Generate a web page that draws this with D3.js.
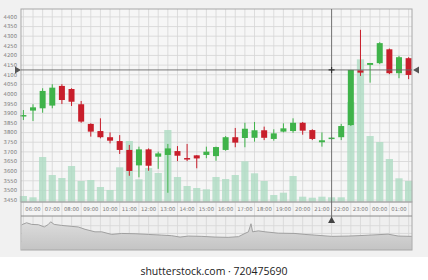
<!DOCTYPE html>
<html>
<head>
<meta charset="utf-8">
<script src="https://cdn.jsdelivr.net/npm/d3@7"></script>
<style>
  body { margin: 0; background: #fff; }
  svg { display: block; font-family: "DejaVu Sans", sans-serif; }
</style>
</head>
<body>
<div id="chart"></div>
<script>
// half hour candles
const times = ["05:30", "06:00", "06:30", "07:00", "07:30", "08:00", "08:30", "09:00", "09:30", "10:00",
  "10:30", "11:00", "11:30", "12:00", "12:30", "13:00", "13:30", "14:00", "14:30", "15:00",
  "15:30", "16:00", "16:30", "17:00", "17:30", "18:00", "18:30", "19:00", "19:30", "20:00",
  "20:30", "21:00", "21:30", "22:00", "22:30", "23:00", "23:30", "00:00", "00:30", "01:00", "01:30"];
const open = [3886, 3914, 3926, 3940, 4042, 4026, 3947, 3845, 3808, 3776, 3756, 3710, 3630, 3713, 3675, 3684, 3704, 3668, 3682, 3684,
  3678, 3710, 3776, 3772, 3773, 3812, 3767, 3805, 3808, 3851, 3813, 3750, 3768, 3776, 3839, 4123, 4151, 4160, 4232, 4108, 4186];
const close = [3891, 3931, 4016, 4033, 3969, 3960, 3857, 3805, 3776, 3758, 3710, 3601, 3713, 3628, 3692, 3718, 3680, 3661, 3666, 3701,
  3725, 3776, 3748, 3820, 3812, 3773, 3796, 3822, 3851, 3810, 3767, 3760, 3774, 3834, 4125, 4111, 4161, 4264, 4108, 4191, 4099];
const high = [3917, 3947, 4030, 4051, 4051, 4030, 3964, 3848, 3874, 3801, 3787, 3736, 3727, 3718, 3701, 3741, 3730, 3741, 3683, 3727,
  3727, 3782, 3824, 3851, 3855, 3831, 3817, 3848, 3874, 3855, 3817, 3801, 3776, 3845, 4125, 4333, 4161, 4269, 4236, 4198, 4191];
const low = [3865, 3860, 3903, 3926, 3948, 3938, 3851, 3779, 3770, 3744, 3689, 3576, 3568, 3602, 3612, 3488, 3652, 3652, 3615, 3667,
  3654, 3706, 3724, 3724, 3753, 3761, 3758, 3801, 3799, 3789, 3761, 3727, 3765, 3761, 3834, 4094, 4059, 4155, 4103, 4082, 4077];
const volume = [60, 47, 450, 270, 240, 360, 210, 220, 150, 120, 347, 610, 227, 340, 290, 720, 250, 160, 140, 127,
  250, 230, 270, 407, 287, 210, 70, 93, 260, 53, 43, 53, 47, 47, 1000, 1427, 660, 600, 430, 237, 210];

const yTicks = [3450, 3500, 3550, 3600, 3650, 3700, 3750, 3800, 3850, 3900, 3950, 4000, 4050, 4100, 4150, 4200, 4250, 4300, 4350, 4400];
const hourLabels = ["06:00", "07:00", "08:00", "09:00", "10:00", "11:00", "12:00", "13:00", "14:00", "15:00",
  "16:00", "17:00", "18:00", "19:00", "20:00", "21:00", "22:00", "23:00", "00:00", "01:00"];

// overview strip at the bottom
const navTimes = ["05:25", "05:40", "05:56", "06:17", "06:35", "06:48", "06:55", "07:06", "07:29", "08:01", "08:21", "08:42",
  "09:13", "09:34", "10:05", "10:36", "11:18", "11:59", "12:41", "13:12", "13:38", "14:04", "14:46", "15:27", "16:08",
  "16:40", "17:00", "17:11", "17:19", "17:24", "17:42", "18:03", "18:44", "19:36", "20:07", "20:38", "21:30", "22:22",
  "23:14", "00:26", "00:58", "01:40"];
const navValues = [4181, 4244, 4191, 4181, 4109, 4191, 4275, 4191, 4159, 4128, 4109, 4034,
  3953, 3953, 3869, 3900, 3891, 3869, 3847, 3828, 3784, 3816, 3806, 3784, 3775,
  3797, 3900, 3953, 4213, 3953, 3984, 3953, 3909, 3900, 3869, 3847, 3806, 3816,
  3838, 3878, 3816, 3806];
const navTicks = [3650, 3900, 4150];

const crossTime = "21:30",
    crossValue = 4125;

let width = 428,
    height = 280;

function toDate(s) {
  const p = s.split(":");
  const h = +p[0];
  return new Date(2017, 0, h < 5 ? 2 : 1, h, +p[1]);
}

const svg = d3.select("#chart")
      .append("svg")
      .attr("width", width)
      .attr("height", height);

const pLeft = 21, pRight = 412, pTop = 9, pBottom = 202;
const navTop = 216, navBottom = 250;

const x = d3.scaleTime()
  .domain([new Date(2017, 0, 1, 5, 22, 36), new Date(2017, 0, 2, 1, 40, 30)])
  .range([pLeft, pRight]);
const y = d3.scaleLinear().domain([3440, 4441]).range([pBottom, pTop]);
const yVol = d3.scaleLinear().domain([0, 1930]).range([pBottom, pTop]);
const yNav = d3.scaleLinear().domain([3400, 4462]).range([navBottom - 1, navTop]);

const halfHours = d3.timeMinute.every(30).range(x.domain()[0], x.domain()[1]);

// backgrounds
svg.append("rect").attr("width", width).attr("height", 257).attr("fill", "#f1f1f1");
svg.append("rect").attr("x", pLeft).attr("y", pTop).attr("width", pRight - pLeft).attr("height", pBottom - pTop)
  .attr("fill", "#f6f6f6");
svg.append("rect").attr("x", pLeft).attr("y", pBottom).attr("width", pRight - pLeft).attr("height", navTop - pBottom)
  .attr("fill", "#f4f4f4");
svg.append("rect").attr("x", pLeft).attr("y", navTop).attr("width", pRight - pLeft).attr("height", navBottom - navTop)
  .attr("fill", "#efefef");

// grid
const grid = svg.append("g").attr("stroke", "#d6d6d6").attr("stroke-width", 0.8);
grid.selectAll(".vg")
  .data(halfHours)
  .enter().append("line")
  .attr("x1", function (d) { return x(d); })
  .attr("x2", function (d) { return x(d); })
  .attr("y1", pTop)
  .attr("y2", pBottom);
grid.selectAll(".hg")
  .data(yTicks)
  .enter().append("line")
  .attr("x1", pLeft)
  .attr("x2", pRight)
  .attr("y1", function (d) { return y(d); })
  .attr("y2", function (d) { return y(d); });
// separators in the time band
grid.selectAll(".bg")
  .data(halfHours.filter(function (d) { return d.getMinutes() === 30; }))
  .enter().append("line")
  .attr("x1", function (d) { return x(d); })
  .attr("x2", function (d) { return x(d); })
  .attr("y1", pBottom)
  .attr("y2", navTop);
// navigator grid
grid.selectAll(".ng")
  .data(halfHours)
  .enter().append("line")
  .attr("x1", function (d) { return x(d); })
  .attr("x2", function (d) { return x(d); })
  .attr("y1", navTop)
  .attr("y2", navBottom);
grid.selectAll(".nh")
  .data(navTicks)
  .enter().append("line")
  .attr("x1", pLeft)
  .attr("x2", pRight)
  .attr("y1", function (d) { return yNav(d); })
  .attr("y2", function (d) { return yNav(d); });

// volume
const bw = 7.2;
svg.append("g").selectAll("rect")
  .data(volume)
  .enter().append("rect")
  .attr("x", function (d, i) { return x(toDate(times[i])) - bw / 2; })
  .attr("y", function (d) { return yVol(d); })
  .attr("width", bw)
  .attr("height", function (d) { return pBottom - yVol(d); })
  .attr("fill", "#aedcc3")
  .attr("fill-opacity", 0.82);

// candles
const candles = times.map(function (t, i) {
  return { t: toDate(t), o: open[i], c: close[i], h: high[i], l: low[i] };
});
const color = function (d) { return d.c >= d.o ? "#3fb34a" : "#c81e2b"; };
const cw = 6;
const candle = svg.append("g").selectAll("g")
  .data(candles)
  .enter().append("g");
candle.append("line")
  .attr("x1", function (d) { return x(d.t); })
  .attr("x2", function (d) { return x(d.t); })
  .attr("y1", function (d) { return y(d.h); })
  .attr("y2", function (d) { return y(d.l); })
  .attr("stroke", color)
  .attr("stroke-width", 1);
candle.append("rect")
  .attr("x", function (d) { return x(d.t) - cw / 2; })
  .attr("y", function (d) { return y(Math.max(d.o, d.c)); })
  .attr("width", cw)
  .attr("height", function (d) { return Math.max(1.5, Math.abs(y(d.o) - y(d.c))); })
  .attr("fill", color);

// navigator area
const defs = svg.append("defs");
const grad = defs.append("linearGradient").attr("id", "navfill").attr("x1", 0).attr("y1", 0).attr("x2", 0).attr("y2", 1);
grad.append("stop").attr("offset", "0%").attr("stop-color", "#dcdcdc");
grad.append("stop").attr("offset", "100%").attr("stop-color", "#c4c4c4");
const navData = navTimes.map(function (t, i) { return { t: toDate(t), v: navValues[i] }; });
svg.append("path")
  .datum(navData)
  .attr("fill", "url(#navfill)")
  .attr("d", d3.area()
    .x(function (d) { return x(d.t); })
    .y0(navBottom)
    .y1(function (d) { return yNav(d.v); }));
svg.append("path")
  .datum(navData)
  .attr("fill", "none")
  .attr("stroke", "#a0a0a0")
  .attr("stroke-width", 1)
  .attr("d", d3.line()
    .x(function (d) { return x(d.t); })
    .y(function (d) { return yNav(d.v); }));

// frames
svg.append("rect").attr("x", pLeft).attr("y", pTop).attr("width", pRight - pLeft).attr("height", pBottom - pTop)
  .attr("fill", "none").attr("stroke", "#a8a8a8");
svg.append("rect").attr("x", pLeft).attr("y", pBottom).attr("width", pRight - pLeft).attr("height", navBottom - pBottom)
  .attr("fill", "none").attr("stroke", "#a8a8a8");
svg.append("line").attr("x1", pLeft).attr("x2", pRight).attr("y1", navTop).attr("y2", navTop)
  .attr("stroke", "#8c8c8c");

// axis labels
svg.append("g").selectAll("text")
  .data(yTicks)
  .enter().append("text")
  .attr("x", 17)
  .attr("y", function (d) { return y(d); })
  .attr("dy", ".35em")
  .attr("text-anchor", "end")
  .attr("font-size", 5.3)
  .attr("fill", "#7a7a7a")
  .text(function (d) { return d; });
svg.append("g").selectAll("text")
  .data(hourLabels)
  .enter().append("text")
  .attr("x", function (d) { return x(toDate(d)); })
  .attr("y", 209)
  .attr("dy", ".35em")
  .attr("text-anchor", "middle")
  .attr("font-size", 5.3)
  .attr("fill", "#7a7a7a")
  .text(function (d) { return d; });

// crosshair
const cx = x(toDate(crossTime)), cy = y(crossValue);
svg.append("line").attr("x1", pLeft).attr("x2", pRight).attr("y1", cy).attr("y2", cy)
  .attr("stroke", "#6a6a6a").attr("stroke-width", 0.9);
svg.append("line").attr("x1", cx).attr("x2", cx).attr("y1", pTop).attr("y2", navTop + 2)
  .attr("stroke", "#6a6a6a").attr("stroke-width", 0.9);
svg.append("path").attr("d", "M" + (cx - 3) + "," + cy + "H" + (cx + 3) + "M" + cx + "," + (cy - 3) + "V" + (cy + 3))
  .attr("stroke", "#333").attr("stroke-width", 1.2);
svg.append("path").attr("d", "M15," + (cy - 3.5) + "L21," + cy + "L15," + (cy + 3.5) + "Z").attr("fill", "#555");
svg.append("path").attr("d", "M419," + (cy - 3.5) + "L413," + cy + "L419," + (cy + 3.5) + "Z").attr("fill", "#555");
svg.append("path").attr("d", "M" + (cx - 3.5) + ",223L" + cx + ",216.5L" + (cx + 3.5) + ",223Z").attr("fill", "#444");

// watermark
svg.append("text")
  .attr("x", 214)
  .attr("y", 275)
  .attr("text-anchor", "middle")
  .attr("font-family", "'Open Sans', sans-serif")
  .attr("font-size", 10.5)
  .attr("fill", "#222")
  .text("shutterstock.com · 720475690");
</script>
</body>
</html>
